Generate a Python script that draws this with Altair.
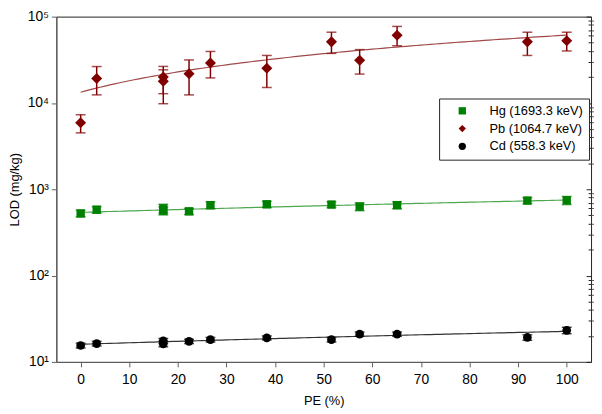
import altair as alt
import pandas as pd

# ---- data ----
pe = [0, 3.3, 17.0, 17.0, 22.3, 26.7, 38.3, 51.6, 57.4, 65.1, 91.9, 100]

hg_val = [525, 580, 600, 565, 555, 655, 670, 665, 630, 655, 740, 745]
hg_err = [45, 50, 70, 60, 45, 60, 55, 50, 65, 60, 60, 80]

pb_val = [5900, 19200, 20000, 17800, 21800, 29000, 25200, 51000, 31200, 61000, 51000, 52500]
pb_lo = [4500, 12400, 12800, 9800, 12400, 19500, 15100, 37500, 21600, 46000, 35500, 40000]
pb_hi = [7300, 26400, 26500, 24200, 31500, 39500, 35500, 66000, 41500, 77000, 66000, 66000]

cd_val = [15.5, 16.3, 17.5, 16.2, 17.3, 18.1, 19.0, 18.1, 21.0, 21.0, 19.2, 23.2]
cd_err = [1.0, 1.0, 1.2, 1.2, 1.0, 1.1, 1.0, 1.1, 1.2, 1.2, 1.4, 2.0]

series = ["Hg (1693.3 keV)", "Pb (1064.7 keV)", "Cd (558.3 keV)"]
colors = ["#008000", "#800000", "#000000"]
shapes = ["square", "diamond", "circle"]
sizes = [72, 125, 78]

# linear fits (intercept, slope)
fit_keys = ["Hg", "Pb", "Cd"]
fit_intercept = [540, 13300, 16.0]
fit_slope = [2.1, 478, 0.066]
fit_colors = ["#4fa84f", "#a04848", "#333333"]

major_y = [10, 100, 1000, 10000, 100000]
minor_y = [k * 10 ** e for e in range(1, 5) for k in range(2, 10)]
x_ticks = list(range(0, 101, 10))

# ---- tables ----
rows = []
for i, x in enumerate(pe):
    rows.append(dict(el=series[0], pe=x, val=hg_val[i], lo=hg_val[i] - hg_err[i], hi=hg_val[i] + hg_err[i]))
    rows.append(dict(el=series[1], pe=x, val=pb_val[i], lo=pb_lo[i], hi=pb_hi[i]))
    rows.append(dict(el=series[2], pe=x, val=cd_val[i], lo=cd_val[i] - cd_err[i], hi=cd_val[i] + cd_err[i]))
df = pd.DataFrame(rows)

FONT = "Liberation Sans"
W, H = 542, 350
AXC = "#606060"

xs = alt.Scale(domain=[-5, 105], nice=False, zero=False)
ys = alt.Scale(type="log", domain=[10, 100000], nice=False)
leg = alt.Legend(title=None, orient="none", legendX=388, legendY=83)
col = alt.Color("el:N", scale=alt.Scale(domain=series, range=colors), legend=leg)
shp = alt.Shape("el:N", scale=alt.Scale(domain=series, range=shapes), legend=leg)

x_axis = alt.Axis(values=x_ticks, tickSize=5, labelPadding=6, labelFontSize=14, title="PE (%)",
                  titleY=33, titleBaseline="top", domainColor=AXC, tickColor=AXC)
x_enc = alt.X("pe:Q", scale=xs, axis=x_axis)
x_plain = alt.X("pe:Q", scale=xs)

label_expr = "'10' + ['\u2070','\u00b9','\u00b2','\u00b3','\u2074','\u2075'][round(log(datum.value)/LN10)]"

# fit lines
calc = {k: f"{b} + {m} * datum.pe" for k, b, m in zip(fit_keys, fit_intercept, fit_slope)}
fits = alt.Chart(alt.sequence(0, 100.5, 1, as_="pe")).transform_calculate(**calc).transform_fold(
    fit_keys, as_=["key", "fit"]
).mark_line(strokeWidth=1.2).encode(
    x=x_enc,
    y=alt.Y("fit:Q", scale=ys, axis=alt.Axis(values=major_y, tickSize=5, labelPadding=3,
            labelFontSize=14, labelExpr=label_expr, title="LOD (mg/kg)", titleX=-42, titleY=H / 2,
            titleAngle=-90, titleAlign="center", titleBaseline="middle",
            domainColor=AXC, tickColor=AXC)),
    stroke=alt.Stroke("key:N", scale=alt.Scale(domain=fit_keys, range=fit_colors), legend=None),
    detail="key:N",
)

base = alt.Chart(df)

rules = base.mark_rule(strokeWidth=1.5).encode(
    x=x_plain,
    y=alt.Y("lo:Q", scale=ys, axis=alt.Axis(values=minor_y, tickSize=3, labels=False,
            domain=False, title=None, tickColor=AXC)),
    y2="hi:Q",
    color=col,
)

caps_lo = base.mark_tick(orient="horizontal", size=10, thickness=1.5).encode(
    x=x_plain,
    y=alt.Y("lo:Q", scale=ys, axis=alt.Axis(orient="left", offset=-W, values=major_y, tickSize=5,
            labels=False, domain=False, title=None, tickColor="#222")),
    color=col,
)

caps_hi = base.mark_tick(orient="horizontal", size=10, thickness=1.5).encode(
    x=x_plain,
    y=alt.Y("hi:Q", scale=ys, axis=alt.Axis(orient="left", offset=-W, values=minor_y, tickSize=3,
            labels=False, domain=False, title=None, tickColor="#222")),
    color=col,
)

point_layers = []
for name, sz in zip(series, sizes):
    point_layers.append(
        base.transform_filter(alt.datum.el == name).mark_point(filled=True, opacity=1, size=sz).encode(
            x=x_plain,
            y=alt.Y("val:Q", scale=ys, axis=None),
            color=col,
            shape=shp,
        )
    )

chart = alt.layer(fits, rules, caps_lo, caps_hi, *point_layers).resolve_scale(
    y="shared"
).resolve_axis(y="independent").properties(
    width=W, height=H,
    padding={"left": 49, "top": 6, "right": 3, "bottom": 46},
    autosize=alt.AutoSizeParams(type="none"),
).configure_view(stroke="#222", strokeWidth=1).configure_axis(
    grid=False, labelFont=FONT, labelFontSize=14, labelColor="#000",
    titleFont=FONT, titleFontSize=13, titleFontWeight="normal", titleColor="#000",
).configure_legend(
    labelFont=FONT, labelFontSize=13, labelColor="#000",
    strokeColor="#222", fillColor="white", padding=6, rowPadding=4,
    symbolSize=55, symbolOffset=11, labelOffset=21, symbolStrokeWidth=0,
    symbolOpacity=1,
)

chart.save("out.html", embed_options={"renderer": "svg", "actions": False})
